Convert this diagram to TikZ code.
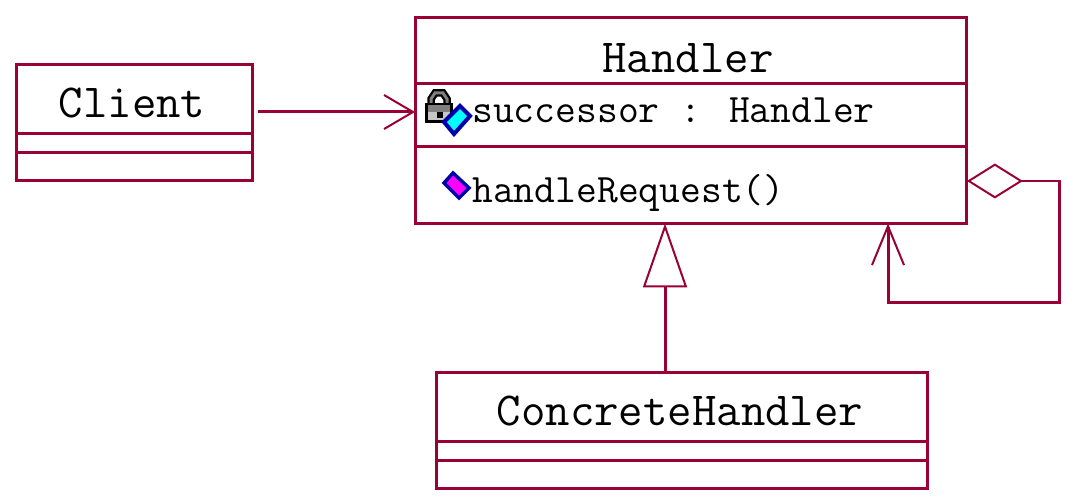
\documentclass[tikz,border=0pt]{standalone}
\usepackage{xcolor}
\usetikzlibrary{arrows.meta,calc}
\definecolor{umlred}{RGB}{153,0,51}
\definecolor{attrcyan}{RGB}{0,255,255}
\definecolor{opmagenta}{RGB}{255,0,255}
\definecolor{markblue}{RGB}{0,0,170}
\tikzset{
  classbox/.style={draw=umlred, line width=0.06cm, inner sep=0pt, outer sep=0pt, anchor=north west},
  classname/.style={font=\ttfamily\fontsize{27}{27}\selectfont, inner sep=0pt},
  member/.style={font=\ttfamily\fontsize{23}{23}\selectfont, inner sep=0pt, anchor=west},
  umlline/.style={draw=umlred, line width=0.06cm},
  assoc/.style={umlline, -{Straight Barb[length=0.58cm, width=0.68cm, line width=0.04cm, umlred]}},
  inherit/.style={umlline, -{Triangle[open, length=1.28cm, width=0.88cm, line width=0.04cm, umlred, fill=white]}},
  aggr/.style={umlline, {Diamond[open, length=1.12cm, width=0.70cm, line width=0.04cm, umlred, fill=white]}-{Straight Barb[length=0.78cm, width=0.64cm, line width=0.04cm, umlred]}}
}
\begin{document}
\begin{tikzpicture}[x=0.02cm, y=-0.02cm, line join=miter]
  \useasboundingbox (0,0) rectangle (1070,503);

  %--- Class boxes ----------------------------------------------------------
  \node[classbox, minimum width=11.04cm, minimum height=4.12cm] (handler) at (415,17.5) {};
  \node[classbox, minimum width=4.72cm, minimum height=2.32cm] (client) at (16.5,65) {};
  \node[classbox, minimum width=9.84cm, minimum height=2.34cm] (concrete) at (436,372) {};

  %--- Compartment lines ----------------------------------------------------
  \foreach \yy in {84,147}
    \draw[umlline] (handler.west |- 0,\yy) -- (handler.east |- 0,\yy);
  \foreach \yy in {134,153}
    \draw[umlline] (client.west |- 0,\yy) -- (client.east |- 0,\yy);
  \foreach \yy in {441,460}
    \draw[umlline] (concrete.west |- 0,\yy) -- (concrete.east |- 0,\yy);

  %--- Labels ---------------------------------------------------------------
  \node[classname] (handlerName)  at (688,58)  {Handler};
  \node[classname] (clientName)   at (132,103) {Client};
  \node[classname] (concreteName) at (680,411) {ConcreteHandler};
  \node[member] (attrName) at (472,110) {successor : Handler};
  \node[member] (opName)   at (472,193) {handleRequest()};

  %--- Lock and attribute marker --------------------------------------------
  \draw[black, line width=0.15cm] (431,106) -- (431,99) -- (435,93) -- (443,93) -- (447,99) -- (447,106);
  \draw[gray, line width=0.06cm] (431,106) -- (431,99) -- (435,93) -- (443,93) -- (447,99) -- (447,106);
  \fill[black] (425,103) rectangle (453,123);
  \fill[gray] (428,105) rectangle (450,112);
  \fill[gray!45] (428,112) rectangle (450,120);
  \fill[black] (437,112) rectangle (443,118);
  \filldraw[fill=attrcyan, draw=markblue, line width=0.08cm]
    (460,106) -- (470,116) -- (454,134) -- (444,122) -- cycle;

  %--- Operation marker -----------------------------------------------------
  \filldraw[fill=opmagenta, draw=markblue, line width=0.07cm]
    (453,173) -- (469,188) -- (459,198) -- (444,183) -- cycle;

  %--- Connectors -----------------------------------------------------------
  \coordinate (assocIn)   at (handler.west |- 0,112);
  \coordinate (inheritUp) at (handler.south -| 665,0);
  \coordinate (selfOut)   at (handler.east |- 0,181);
  \coordinate (selfIn)    at (handler.south -| 888,0);
  \draw[assoc, shorten <=0.12cm] (client.east |- assocIn) -- (assocIn);
  \draw[inherit] (concrete.north -| inheritUp) -- (inheritUp);
  \draw[aggr] (selfOut) -- (1059,181) -- (1059,302) -- (888,302) -- (selfIn);
\end{tikzpicture}
\end{document}
